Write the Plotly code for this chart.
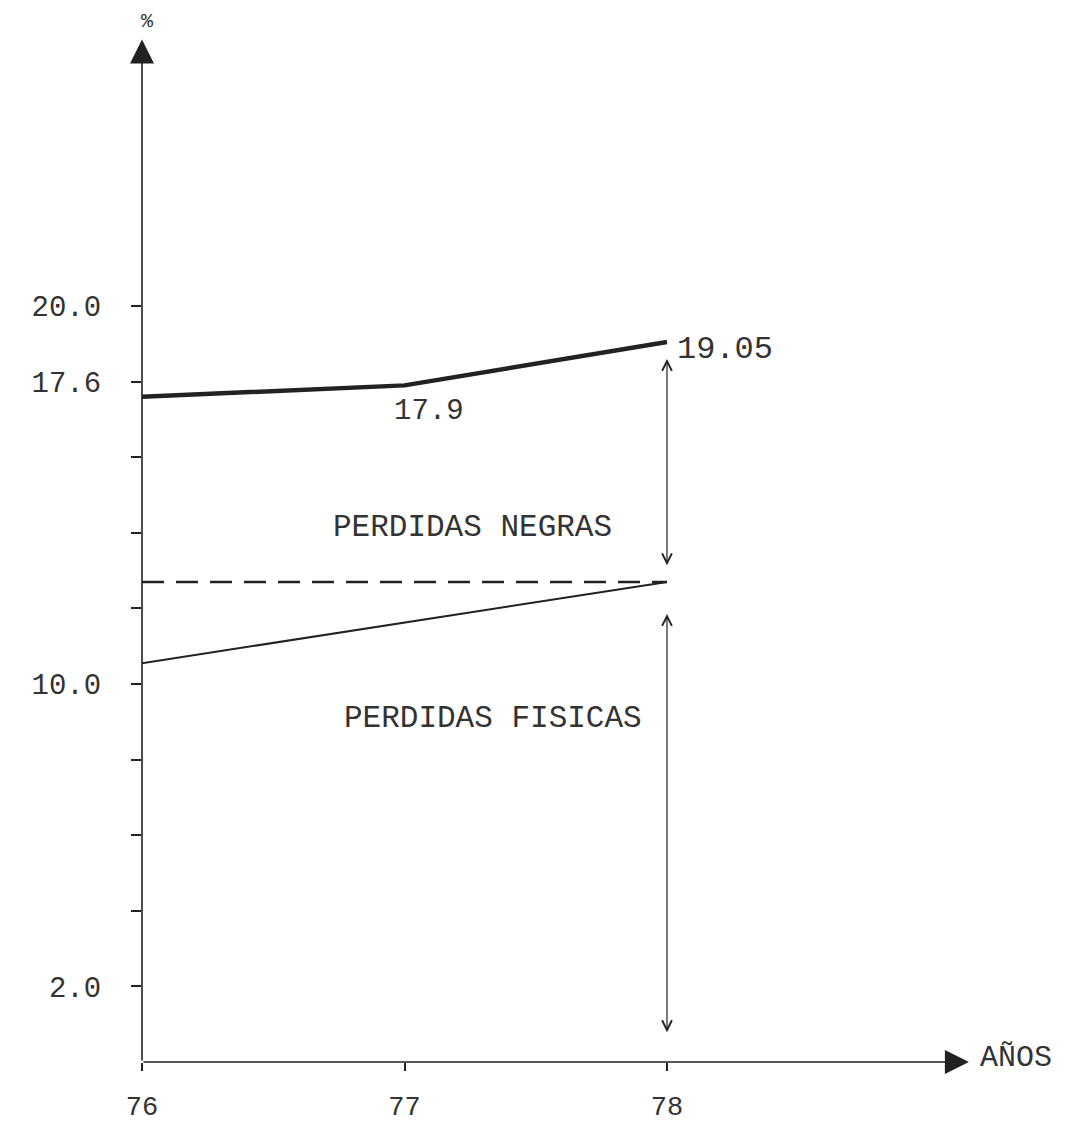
import plotly.graph_objects as go

# ---- data ----
years = [76, 77, 78]
total_losses = [17.6, 17.9, 19.05]          # thick solid line
physical_x = [76, 78]
physical_losses = [10.55, 12.7]             # thin solid line
ref_x = [76, 78]
ref_level = [12.7, 12.7]                    # dashed line
y_tickvals = [2, 4, 6, 8, 10, 12, 14, 16, 18, 20]
y_ticktext = ["2.0", "", "", "", "10.0", "", "", "", "17.6", "20.0"]
x_tickvals = [76, 77, 78]
x_ticktext = ["76", "77", "78"]

FONT = "Liberation Mono"
INK = "#222222"
TXT = "#333333"

# page has an 8px body margin; keep the figure inside the window
W, H = 1071, 1123
ML, MR, MT, MB = 134, 20, 22, 69
px_per_year = 262.5
px_per_unit = 37.8
plot_h = H - MT - MB
x_range = [76, 76 + (W - ML - MR) / px_per_year]
y_range = [0, plot_h / px_per_unit]

fig = go.Figure()

fig.add_trace(go.Scatter(x=years, y=total_losses, mode="lines",
                         line=dict(color=INK, width=4.5), showlegend=False))
fig.add_trace(go.Scatter(x=physical_x, y=physical_losses, mode="lines",
                         line=dict(color=INK, width=2), showlegend=False))
fig.add_trace(go.Scatter(x=ref_x, y=ref_level, mode="lines",
                         line=dict(color=INK, width=2.5, dash="22px,12px"), showlegend=False))

ann = []
# axes drawn as arrows
ann.append(dict(x=76, y=27.05, ax=76, ay=0, xref="x", yref="y", axref="x", ayref="y",
                text="", showarrow=True, arrowhead=2, arrowsize=3, arrowwidth=1.6,
                arrowcolor=INK))
ann.append(dict(x=79.15, y=0, ax=76, ay=0, xref="x", yref="y", axref="x", ayref="y",
                text="", showarrow=True, arrowhead=2, arrowsize=3, arrowwidth=1.6,
                arrowcolor=INK))
# double arrows at 78
ann.append(dict(x=78, y=18.6, ax=78, ay=13.1, xref="x", yref="y", axref="x", ayref="y",
                text="", showarrow=True, arrowside="end+start", arrowhead=5,
                startarrowhead=5, arrowsize=1.6, startarrowsize=1.6, arrowwidth=1.2,
                arrowcolor=INK))
ann.append(dict(x=78, y=11.85, ax=78, ay=0.75, xref="x", yref="y", axref="x", ayref="y",
                text="", showarrow=True, arrowside="end+start", arrowhead=5,
                startarrowhead=5, arrowsize=1.6, startarrowsize=1.6, arrowwidth=1.2,
                arrowcolor=INK))

def label(text, x, y, size=29, xanchor="center"):
    ann.append(dict(x=x, y=y, xref="x", yref="y", text=text, showarrow=False,
                    xanchor=xanchor, yanchor="middle",
                    font=dict(family=FONT, size=size, color=TXT)))

label("19.05", 78.03, 18.84, size=32, xanchor="left")
label("17.9", 77.095, 17.22, size=29)
label("PERDIDAS NEGRAS", 77.26, 14.15, size=31)
label("PERDIDAS FISICAS", 77.337, 9.1, size=31)
label("AÑOS", 79.33, 0.1, size=30)
ann.append(dict(x=76.02, y=1 + 8 / plot_h, xref="x", yref="paper", text="%",
                showarrow=False, xanchor="center", yanchor="middle",
                font=dict(family=FONT, size=20, color=TXT)))

fig.update_layout(
    width=W, height=H, autosize=False,
    margin=dict(l=ML, r=MR, t=MT, b=MB, pad=0),
    paper_bgcolor="white", plot_bgcolor="white",
    annotations=ann,
    xaxis=dict(range=x_range, tickvals=x_tickvals, ticktext=x_ticktext,
               automargin=False,
               showgrid=False, zeroline=False, showline=False,
               ticks="outside", ticklen=8, tickwidth=2, tickcolor=INK,
               ticklabelstandoff=12,
               tickfont=dict(family=FONT, size=27, color=TXT)),
    yaxis=dict(range=y_range, tickvals=y_tickvals, ticktext=y_ticktext,
               automargin=False,
               showgrid=False, zeroline=False, showline=False,
               ticks="outside", ticklen=10, tickwidth=2, tickcolor=INK,
               ticklabelstandoff=24,
               tickfont=dict(family=FONT, size=29, color=TXT)),
)

fig.write_html("out.html")
